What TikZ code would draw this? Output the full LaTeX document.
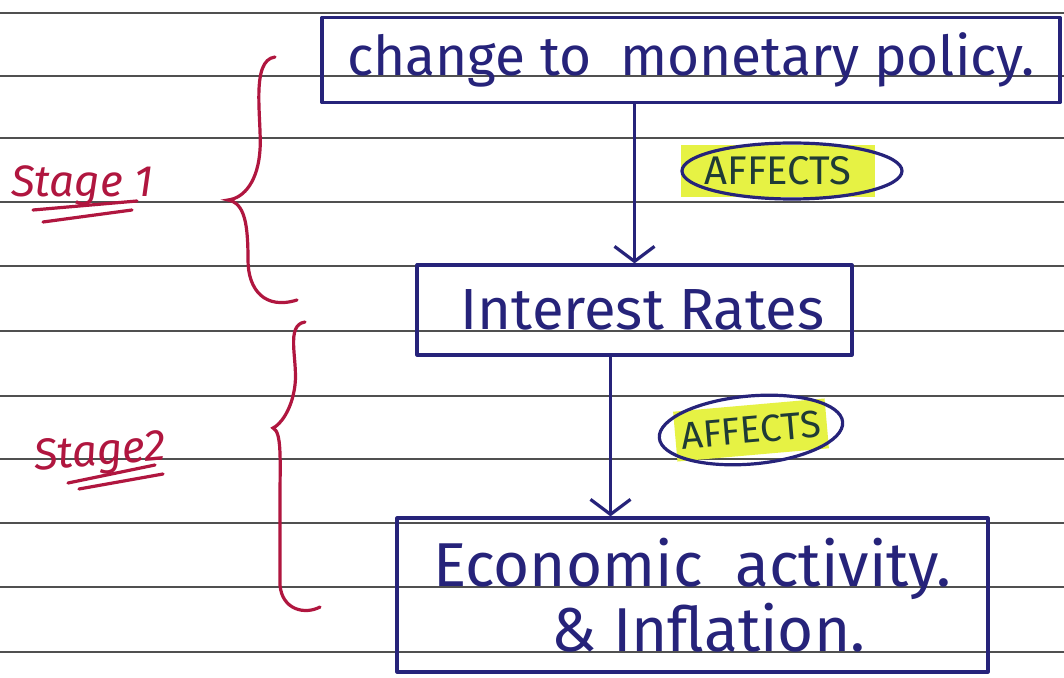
\documentclass[tikz,border=0pt]{standalone}
\usepackage{fontspec}
\setmainfont{Fira Sans}
\usetikzlibrary{arrows.meta}
\definecolor{ink}{HTML}{26237A}
\definecolor{redink}{HTML}{B0163F}
\definecolor{rule}{HTML}{505050}
\definecolor{hilite}{HTML}{E6F244}
\definecolor{tagink}{HTML}{1F3B36}

\begin{document}
\begin{tikzpicture}[x=0.5pt,y=-0.5pt,>={Straight Barb[length=7.5pt,width=20pt]},
  pen/.style={ink,line width=1.6pt,line cap=round,line join=round},
  redpen/.style={redink,line width=1.6pt,line cap=round},
  box/.style={pen,draw,rectangle,inner sep=0pt,align=center},
  tag/.style={fill=hilite,text=tagink,inner sep=2pt,font=\fontsize{20}{22}\selectfont},
  stagetext/.style={redink,font=\fontsize{22}{26}\selectfont\itshape}]
 \useasboundingbox (0,0) rectangle (1064,678);
 \fill[white] (0,0) rectangle (1064,678);
 \foreach \y in {13,76,138,202,266,331,396,459,523,587,652}
   \draw[rule,line width=0.8pt] (0,\y)--(1064,\y);

 \node[box,minimum width=369pt,minimum height=42.5pt,font=\fontsize{27.5}{30}\selectfont]
   (policy) at (691,60) {change to \ monetary policy.};
 \node[box,minimum width=217.5pt,minimum height=45pt,font=\fontsize{29}{32}\selectfont]
   (rates) at (634.5,310) {\hspace*{8pt}Interest Rates};
 \node[box,minimum width=295.5pt,minimum height=77pt,font=\fontsize{31}{32.5}\selectfont]
   (activity) at (692.5,595) {Economic \ activity.\\ \hspace*{16pt}\& Inflation.};

 \draw[pen,->] (rates.north |- policy.south) -- (rates.north);
 \draw[pen,->] ([xshift=-12pt]rates.south) -- ([xshift=-12pt]rates.south |- activity.north);

 \node[tag,minimum width=97pt,minimum height=26pt] (affects1) at (778,171) {AFFECTS};
 \draw[pen] ([xshift=7pt]affects1.center) ellipse [x radius=55pt,y radius=14pt];
 \node[tag,rotate=5,minimum width=76pt,minimum height=25pt,font=\fontsize{19}{21}\selectfont]
   (affects2) at (751,430) {AFFECTS};
 \draw[pen,rotate around={5:(affects2.center)}] (affects2.center) ellipse [x radius=46pt,y radius=17pt];

 \node[stagetext,anchor=base] (stage1) at (82,197) {Stage 1};
 \draw[redpen] (33,210) -- (137,201);
 \draw[redpen] (43,222) -- (132,210);
 \node[stagetext,anchor=base,rotate=5] (stage2) at (101,465) {Stage2};
 \draw[redpen] (68,483) -- (155,465);
 \draw[redpen] (79,489) -- (163,474);

 \draw[redpen] (275,57) .. controls (250,60) and (262,120) .. (260,150)
   .. controls (258,180) and (245,198) .. (228,200)
   .. controls (245,203) and (248,225) .. (248,260)
   .. controls (248,290) and (265,310) .. (297,300);
 \draw[redpen] (305,322) .. controls (285,325) and (298,360) .. (295,385)
   .. controls (292,410) and (280,425) .. (273,428)
   .. controls (282,432) and (280,460) .. (280,500)
   -- (280,585) .. controls (282,610) and (305,615) .. (320,607);
\end{tikzpicture}
\end{document}
